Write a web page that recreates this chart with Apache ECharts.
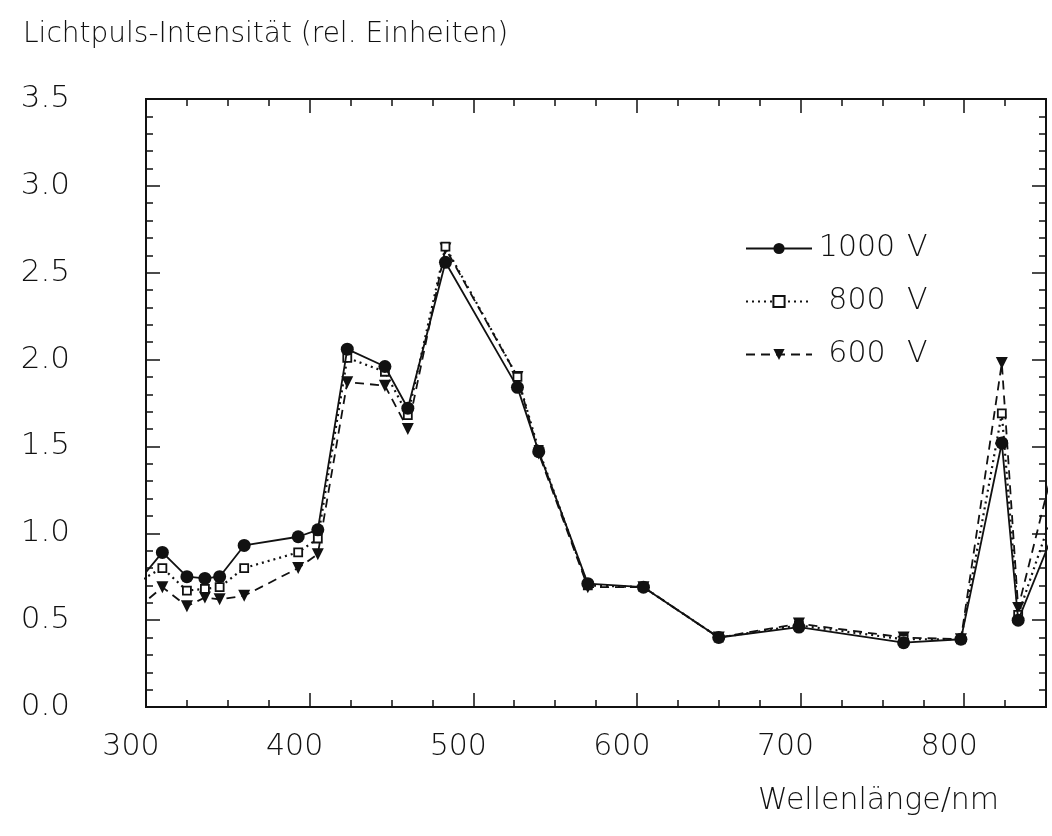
<!DOCTYPE html>
<html>
<head>
<meta charset="utf-8">
<script src="https://cdn.jsdelivr.net/npm/echarts@6/dist/echarts.min.js"></script>
<style>
html,body{margin:0;padding:0;background:#fff;}
#chart{width:1052px;height:836px;}
</style>
</head>
<body>
<div id="chart"></div>
<script>
// Wavelengths (nm); first and last points lie just outside the plotted frame
var wavelengths = [295, 310, 325, 336, 345, 360, 393, 405, 423, 446, 460, 483, 527, 540, 570, 604, 650, 699, 763, 798, 823, 833, 860];
var v1000 = [0.72, 0.89, 0.75, 0.74, 0.75, 0.93, 0.98, 1.02, 2.06, 1.96, 1.72, 2.56, 1.84, 1.47, 0.71, 0.69, 0.40, 0.46, 0.37, 0.39, 1.52, 0.50, 1.13];
var v800  = [0.72, 0.80, 0.67, 0.68, 0.69, 0.80, 0.89, 0.97, 2.01, 1.93, 1.68, 2.65, 1.90, 1.48, 0.70, 0.69, 0.40, 0.47, 0.39, 0.39, 1.69, 0.53, 1.28];
var v600  = [0.57, 0.69, 0.58, 0.63, 0.62, 0.64, 0.80, 0.88, 1.87, 1.85, 1.60, 2.64, 1.90, 1.46, 0.69, 0.69, 0.40, 0.48, 0.40, 0.39, 1.98, 0.57, 1.59];
var seriesNames = ['1000 V', '800 V', '600 V'];
var titleText = 'Lichtpuls-Intensität (rel. Einheiten)';
var xAxisTitle = 'Wellenlänge/nm';

function pairs(vals){ return wavelengths.map(function(w,i){ return [w, vals[i]]; }); }

var FONT = 'DejaVu Sans';
var FW = 200;
var INK = '#111';
var chart = echarts.init(document.getElementById('chart'), null, {renderer:'canvas'});

function xAx(pos, interval, tickLen, labels){
  return {
    type:'value', position:pos, offset:0, min:300, max:850, interval:interval,
    axisLine:{show:true, onZero:false, lineStyle:{color:INK, width:2}},
    axisTick:{show:true, inside:true, length:tickLen, lineStyle:{color:INK, width:1.5}},
    splitLine:{show:false},
    axisLabel:{show:labels, fontFamily:FONT, fontWeight:FW, fontSize:30, color:INK, margin:25,
               padding:[0,30,0,0], showMaxLabel:false}
  };
}
function yAx(pos, labels){
  return {
    type:'value', position:pos, offset:0, min:0, max:3.5, interval:0.5,
    axisLine:{show:true, onZero:false, lineStyle:{color:INK, width:2}},
    axisTick:{show:true, inside:true, length:14, lineStyle:{color:INK, width:1.5}},
    minorTick:{show:true, splitNumber:5, length:7, lineStyle:{color:INK, width:1.5}},
    splitLine:{show:false}, minorSplitLine:{show:false},
    axisLabel:{show:labels, fontFamily:FONT, fontWeight:FW, fontSize:31, color:INK, margin:76,
               formatter:function(v){ return v.toFixed(1); }}
  };
}

var option = {
  backgroundColor:'#fff',
  animation:false,
  title:{text:titleText, left:18, top:16,
         textStyle:{fontFamily:FONT, fontSize:28, fontWeight:FW, color:INK}},
  graphic:[{type:'text', left:758, top:786,
            style:{text:xAxisTitle, fontFamily:FONT, fontWeight:FW, fontSize:30, fill:INK}}],
  grid:{left:146, right:6, top:99, bottom:129, containLabel:false},
  xAxis:[ xAx('bottom',100,14,true), xAx('bottom',25,7,false),
          xAx('top',100,14,false), xAx('top',25,7,false) ],
  yAxis:[ yAx('left',true), yAx('right',false) ],
  legend:{
    orient:'vertical', left:740, top:228, itemWidth:66, itemHeight:14, itemGap:22,
    data:seriesNames,
    formatter:function(name){ var p=name.split(' '); return '{n|'+p[0]+'}{v|'+p[1]+'}'; },
    textStyle:{fontFamily:FONT, fontWeight:FW, fontSize:30, color:INK, lineHeight:31,
      rich:{ n:{fontFamily:FONT, fontWeight:FW, fontSize:30, color:INK, width:80, align:'right'},
             v:{fontFamily:FONT, fontWeight:FW, fontSize:30, color:INK, padding:[0,0,0,10]} }}
  },
  series:[
    {name:seriesNames[2], type:'line', data:pairs(v600), xAxisIndex:0, yAxisIndex:0, clip:true,
     symbol:'triangle', symbolRotate:180, symbolSize:12,
     itemStyle:{color:INK}, lineStyle:{color:INK, width:1.8, type:[9,6]}, z:2},
    {name:seriesNames[1], type:'line', data:pairs(v800), xAxisIndex:0, yAxisIndex:0, clip:true,
     symbol:'rect', symbolSize:8,
     itemStyle:{color:'#fff', borderColor:INK, borderWidth:1.8}, lineStyle:{color:INK, width:2.2, type:[2,4]}, z:3},
    {name:seriesNames[0], type:'line', data:pairs(v1000), xAxisIndex:0, yAxisIndex:0, clip:true,
     symbol:'circle', symbolSize:13,
     itemStyle:{color:INK}, lineStyle:{color:INK, width:1.8, type:'solid'}, z:4}
  ]
};
chart.setOption(option);
</script>
</body>
</html>
